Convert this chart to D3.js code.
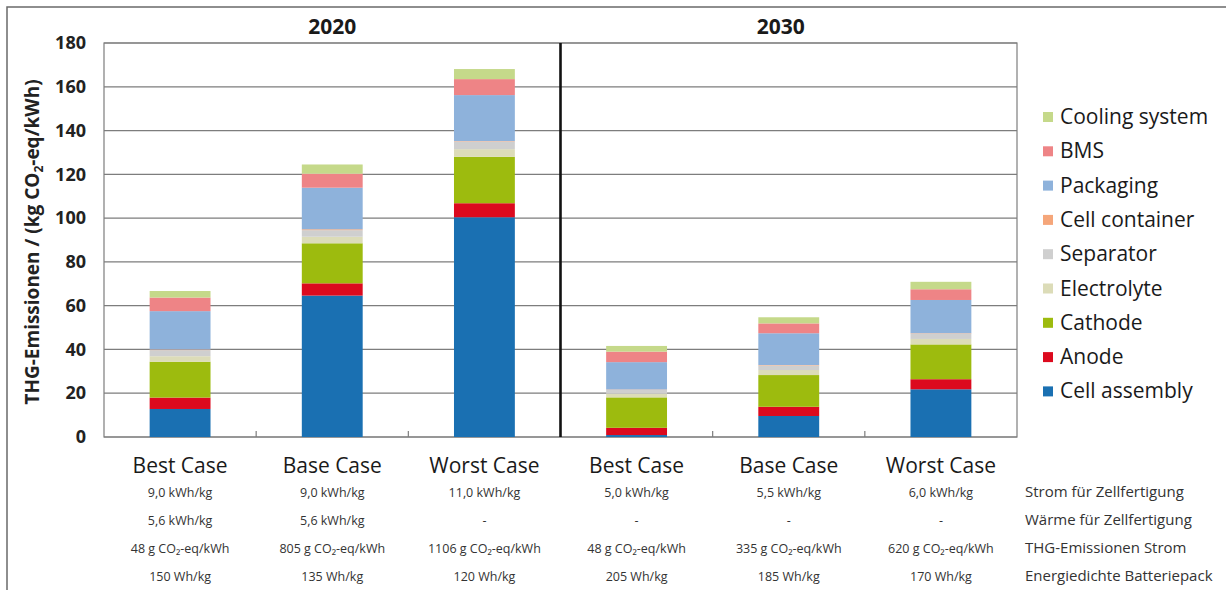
<!DOCTYPE html>
<html><head><meta charset="utf-8">
<script src="https://cdn.jsdelivr.net/npm/d3@7"></script>
<style>
html,body{margin:0;padding:0;background:#fff;}
svg{display:block;font-family:"Open Sans","Noto Sans",sans-serif;}
</style></head>
<body>
<svg id="chart" width="1226" height="590"></svg>
<script>
// ---- data ----
const categories = ["2020 Best","2020 Base","2020 Worst","2030 Best","2030 Base","2030 Worst"];
const categoryLabels = ["Best Case","Base Case","Worst Case","Best Case","Base Case","Worst Case"];
const groups = ["2020","2030"];
const seriesNames = ["Cell assembly","Anode","Cathode","Electrolyte","Separator","Cell container","Packaging","BMS","Cooling system"];
const seriesColors = ["#1a70b2","#dc0a1e","#9dbb0e","#dcdcb8","#cfcfcf","#f5a67a","#8eb2db","#ee8486","#c5d98a"];
const cellAssembly  = [12.8, 64.6, 100.4, 0.9, 9.6, 21.8];
const anode         = [5.2, 5.6, 6.4, 3.3, 4.2, 4.6];
const cathode       = [16.4, 18.3, 21.2, 13.9, 14.5, 15.9];
const electrolyte   = [2.5, 3.0, 3.5, 1.7, 2.3, 2.5];
const separator     = [2.8, 3.0, 3.5, 1.7, 2.1, 2.4];
const cellContainer = [0.3, 0.4, 0.2, 0.2, 0.2, 0.2];
const packaging     = [17.5, 19.0, 21.0, 12.5, 14.5, 15.2];
const bms           = [6.2, 6.4, 7.3, 4.8, 4.5, 4.9];
const cooling       = [3.0, 4.2, 4.6, 2.6, 2.8, 3.4];
const yTicks = [0,20,40,60,80,100,120,140,160,180];
const rowStrom   = ["9,0 kWh/kg","9,0 kWh/kg","11,0 kWh/kg","5,0 kWh/kg","5,5 kWh/kg","6,0 kWh/kg"];
const rowWaerme  = ["5,6 kWh/kg","5,6 kWh/kg","-","-","-","-"];
const rowTHG     = ["48 g CO₂-eq/kWh","805 g CO₂-eq/kWh","1106 g CO₂-eq/kWh","48 g CO₂-eq/kWh","335 g CO₂-eq/kWh","620 g CO₂-eq/kWh"];
const rowDichte  = ["150 Wh/kg","135 Wh/kg","120 Wh/kg","205 Wh/kg","185 Wh/kg","170 Wh/kg"];
const rowNames   = ["Strom für Zellfertigung","Wärme für Zellfertigung","THG-Emissionen Strom","Energiedichte Batteriepack"];

const seriesValues = [cellAssembly, anode, cathode, electrolyte, separator, cellContainer, packaging, bms, cooling];
const table = categories.map((c,i)=>{
  const o = {cat:c};
  seriesNames.forEach((s,j)=>{ o[s] = seriesValues[j][i]; });
  return o;
});

// ---- layout ----
const svg = d3.select("#chart");
const plot = {left:104, right:1017, top:43, bottom:437};

// outer frame
svg.append("rect").attr("x",7).attr("y",7).attr("width",1240).attr("height",600)
  .attr("fill","none").attr("stroke","#6a6a6a").attr("stroke-width",1.5);

const x = d3.scaleBand().domain(categories).range([plot.left, plot.right])
  .paddingInner(0.6).paddingOuter(0.3);
const y = d3.scaleLinear().domain([0,180]).range([plot.bottom, plot.top]);
const color = d3.scaleOrdinal().domain(seriesNames).range(seriesColors);

// gridlines
svg.append("g").selectAll("line").data(yTicks).join("line")
  .attr("x1",plot.left).attr("x2",plot.right)
  .attr("y1",d=>y(d)).attr("y2",d=>y(d))
  .attr("stroke","#7d7d7d").attr("stroke-width",1.2);

// plot border
svg.append("rect").attr("x",plot.left).attr("y",plot.top)
  .attr("width",plot.right-plot.left).attr("height",plot.bottom-plot.top)
  .attr("fill","none").attr("stroke","#7d7d7d").attr("stroke-width",1.2);

// bars
const stacked = d3.stack().keys(seriesNames)(table);
svg.append("g").selectAll("g").data(stacked).join("g")
  .attr("fill",d=>color(d.key))
  .selectAll("rect").data(d=>d).join("rect")
  .attr("x",d=>x(d.data.cat))
  .attr("width",x.bandwidth())
  .attr("y",d=>y(d[1]))
  .attr("height",d=>y(d[0])-y(d[1]));

// category boundary ticks
const step = x.step();
const boundaries = categories.slice(0,-1).map(c=>x(c)+x.bandwidth()+ (step - x.bandwidth())/2);
svg.append("g").selectAll("line").data(boundaries.filter((b,i)=>i!==2)).join("line")
  .attr("x1",d=>d).attr("x2",d=>d).attr("y1",plot.bottom).attr("y2",plot.bottom-6)
  .attr("stroke","#7d7d7d").attr("stroke-width",1.2);

// divider
const divX = boundaries[2];
svg.append("line").attr("x1",divX).attr("x2",divX).attr("y1",plot.top).attr("y2",plot.bottom)
  .attr("stroke","#111").attr("stroke-width",2.6);

// y axis
const yAxis = svg.append("g").attr("transform",`translate(${plot.left-4},0)`)
  .call(d3.axisLeft(y).tickValues(yTicks).tickSize(0).tickPadding(14));
yAxis.select(".domain").remove();
yAxis.selectAll("text").attr("font-size",18).attr("font-weight","bold")
  .attr("fill","#222").attr("font-family","'Open Sans','Noto Sans',sans-serif");

// y label
const yl = svg.append("text").attr("transform",`translate(39,${(plot.top+plot.bottom)/2+2}) rotate(-90)`)
  .attr("text-anchor","middle").attr("font-size",19).attr("font-weight","bold").attr("fill","#222");
yl.append("tspan").text("THG-Emissionen / (kg CO");
yl.append("tspan").text("2").attr("font-size",12).attr("dy",4);
yl.append("tspan").text("-eq/kWh)").attr("dy",-4);

// group titles
const halfCenters = [(plot.left+divX)/2, (divX+plot.right)/2 - 8];
svg.append("g").selectAll("text").data(groups).join("text")
  .attr("x",(d,i)=>halfCenters[i]).attr("y",34).attr("text-anchor","middle")
  .attr("font-size",21).attr("font-weight","bold").attr("fill","#1a1a1a").text(d=>d);

// category labels
svg.append("g").selectAll("text").data(categories).join("text")
  .attr("x",d=>x(d)+x.bandwidth()/2).attr("y",473).attr("text-anchor","middle")
  .attr("font-size",21).attr("fill","#1a1a1a").text((d,i)=>categoryLabels[i]);

// parameter rows
const rows = [rowStrom,rowWaerme,rowTHG,rowDichte];
const rowY = [497,525,553,581];
rows.forEach((r,ri)=>{
  svg.append("g").selectAll("text").data(categories).join("text")
    .attr("x",d=>x(d)+x.bandwidth()/2).attr("y",rowY[ri]).attr("text-anchor","middle")
    .attr("font-size",12.5).attr("fill","#333").text((d,i)=>r[i]);
  svg.append("text").attr("x",1025).attr("y",rowY[ri]).attr("font-size",15)
    .attr("fill","#333").text(rowNames[ri]);
});

// legend
const legendItems = seriesNames.slice().reverse();
const lg = svg.append("g").selectAll("g").data(legendItems).join("g")
  .attr("transform",(d,i)=>`translate(1043,${117+i*34.3})`);
lg.append("rect").attr("x",0).attr("y",-5).attr("width",10).attr("height",10).attr("fill",d=>color(d));
lg.append("text").attr("x",17).attr("y",7).attr("font-size",21).attr("fill","#1a1a1a").text(d=>d);
</script>
</body></html>
